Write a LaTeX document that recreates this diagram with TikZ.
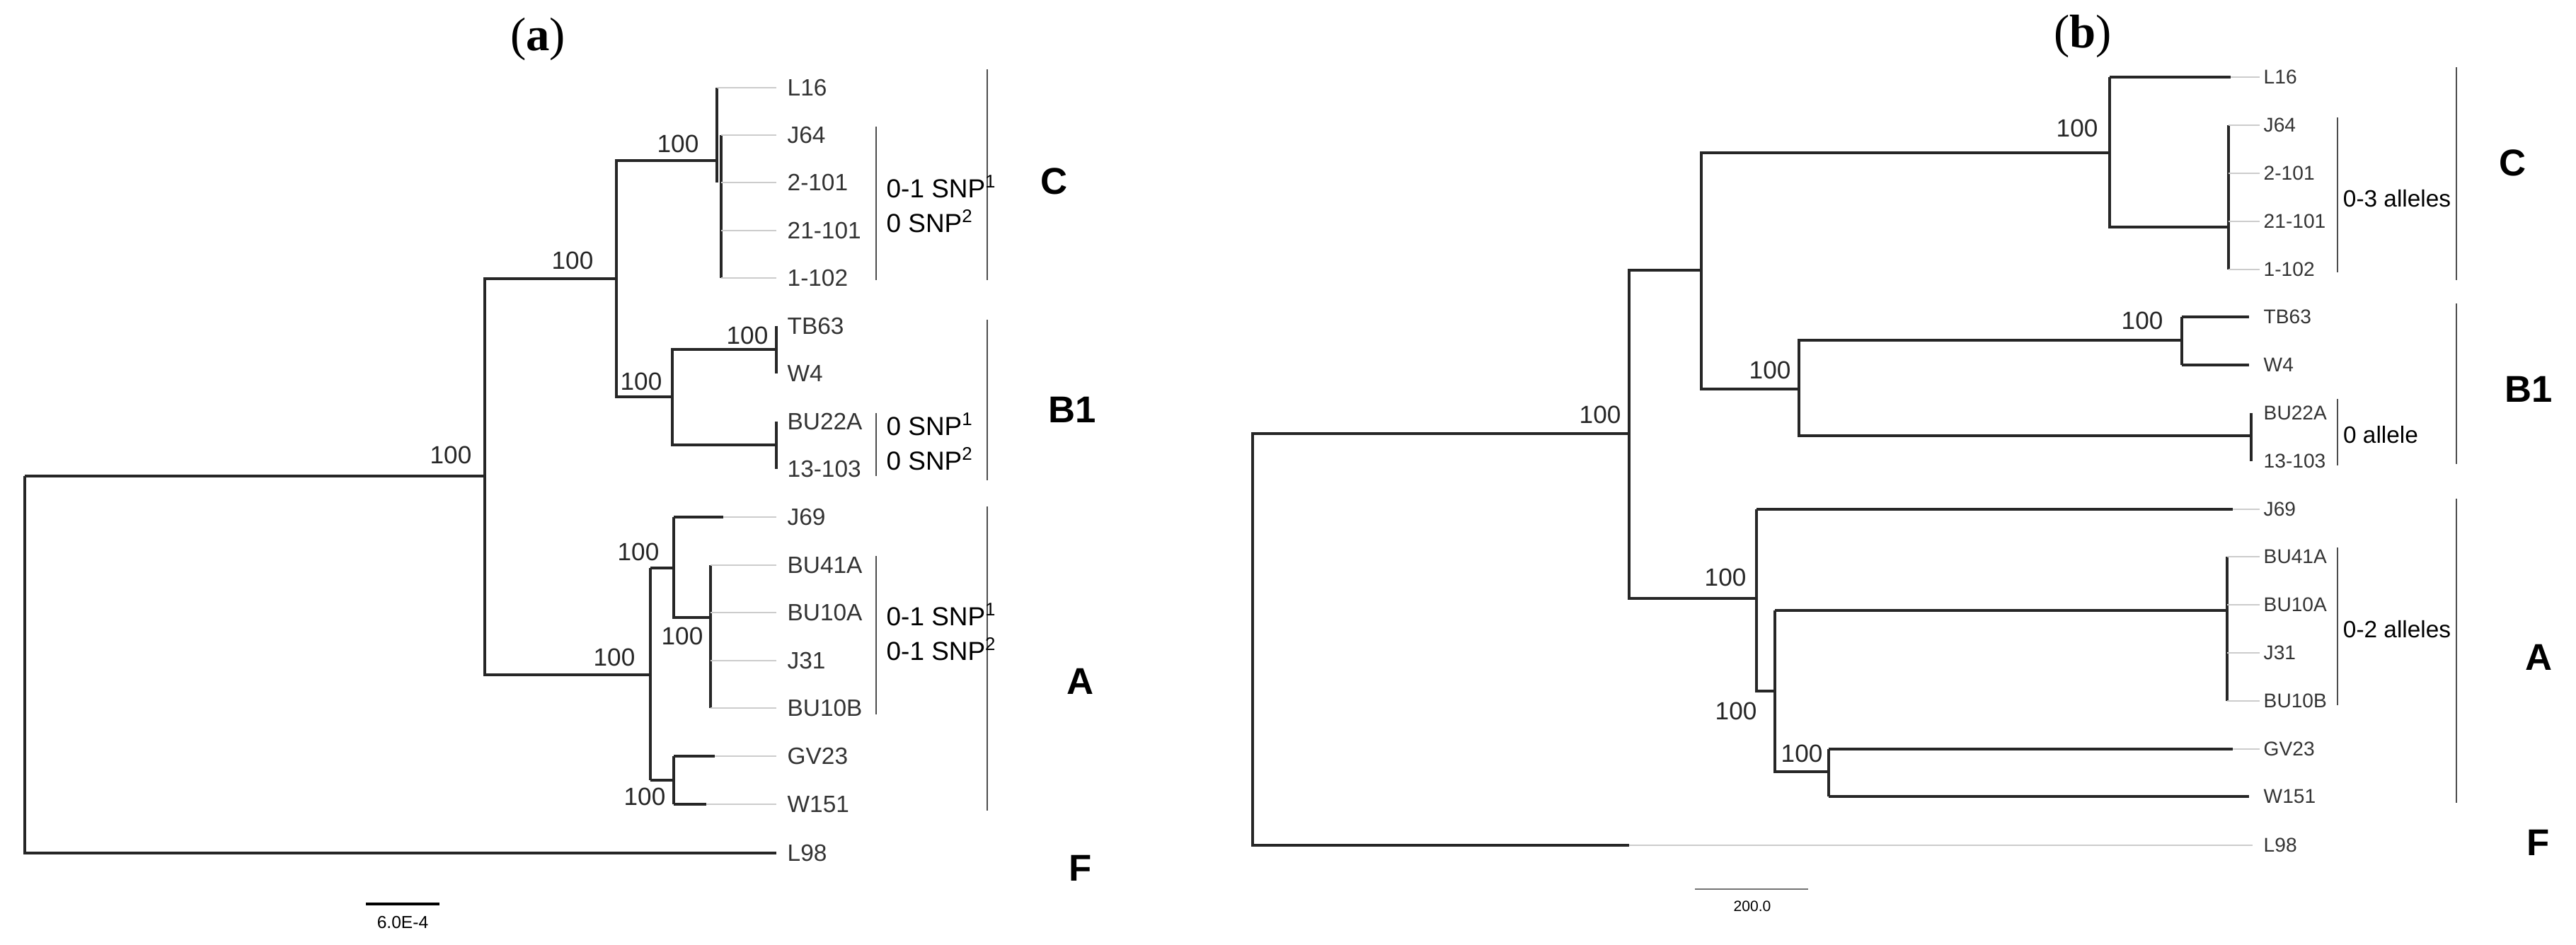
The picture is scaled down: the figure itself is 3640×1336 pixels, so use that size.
\documentclass[tikz,border=0pt]{standalone}
\usepackage{fontspec}
\setmainfont{Liberation Serif}
\newfontfamily\lsans{Liberation Sans}
\begin{document}
\begin{tikzpicture}[x=0.1mm,y=-0.1mm,
  br/.style={line width=0.9pt,black!85},
  lf/.style={draw=black!20,line width=0.5pt},
  lab/.style={anchor=west,inner sep=0pt,font=\lsans\fontsize{9.5}{10}\selectfont,text=black!80},
  labb/.style={anchor=west,inner sep=0pt,font=\lsans\fontsize{8}{9}\selectfont,text=black!80},
  bs/.style={font=\lsans\fontsize{10}{11}\selectfont,text=black!85,inner sep=0pt},
  bar/.style={line width=0.6pt,black!70},
  clade/.style={font=\lsans\bfseries\fontsize{15}{16}\selectfont,inner sep=0pt},
  snp/.style={font=\lsans\fontsize{10.5}{14}\selectfont,align=left,anchor=west,inner sep=0pt},
  ttl/.style={font=\fontsize{19}{20}\selectfont,inner sep=0pt}]
\useasboundingbox (0,0) rectangle (3640,1336);
% ---------- panel (a) ----------
\node[ttl] (ta) at (760,55) {(\textbf{a})};
\foreach \n/\t/\y in {L16/L16/124,J64/J64/191,2101/2-101/258,21101/21-101/326,1102/1-102/393,TB63/TB63/461,W4/W4/528,BU22A/BU22A/596,13103/13-103/663,J69/J69/731,BU41A/BU41A/799,BU10A/BU10A/866,J31/J31/934,BU10B/BU10B/1001,GV23/GV23/1069,W151/W151/1137,L98/L98/1206}
  \node[lab] (a\n) at (1112,\y) {\t};
% internal nodes
\coordinate (ar) at (35,673);
\coordinate (an1) at (685,673);
\coordinate (an2) at (871,394);
\coordinate (aC) at (1013,227);
\coordinate (aCs) at (1019,326);
\coordinate (aB) at (950,561);
\coordinate (aB1) at (1097,494);
\coordinate (aB2) at (1097,629);
\coordinate (aA) at (919,954);
\coordinate (aA1) at (952,803);
\coordinate (aA2) at (1004,873);
\coordinate (aA3) at (952,1103);
\draw[br] (ar) -- (an1);
\draw[br] (an2) |- (aC); \draw[br] (an1) |- (an2); \draw[br] (an1) |- (aA);
\draw[br] (an2) |- (aB);
\draw[br] (aC|-aL16) -- (aC|-a2101);
\draw[br] (aCs|-aJ64) -- (aCs|-a1102);
\draw[br] (aB) |- (aB1); \draw[br] (aB) |- (aB2);
\draw[br] (aB1|-aTB63) -- (aB1|-aW4);
\draw[br] (aB2|-aBU22A) -- (aB2|-a13103);
\draw[br] (aA|-aA1) -- (aA|-aA3);
\draw[br] (aA|-aA1) -- (aA1);
\draw[br] (aA|-aA3) -- (aA3);
\draw[br] (aA1|-aJ69) -- (aA1|-aA2) -- (aA2);
\draw[br] (aA2|-aBU41A) -- (aA2|-aBU10B);
\draw[br] (aA3|-aGV23) -- (aA3|-aW151);
\draw[br] (aA1|-aJ69) -- (1022,731);
\draw[br] (aA3|-aGV23) -- (1010,1069);
\draw[br] (aA3|-aW151) -- (998,1137);
\draw[br] (ar) -- (ar|-aL98) -- (1097,1206);
\foreach \n/\x in {L16/1013,J64/1019,2101/1019,21101/1019,1102/1019,J69/1022,BU41A/1004,BU10A/1004,J31/1004,BU10B/1004,GV23/1010,W151/998}
  \draw[lf] (\x,0|-a\n.west) -- ([xshift=-1.5mm]a\n.west);
\foreach \p in {(958,203),(809,368),(637,643),(1056,474),(906,539),(902,780),(964,899),(868,929),(911,1126)}
  \node[bs] at \p {100};
% bars
\draw[bar] (1395,98) -- (1395,396); \draw[bar] (1395,452) -- (1395,679); \draw[bar] (1395,716) -- (1395,1146);
\draw[bar] (1238,179) -- (1238,396); \draw[bar] (1238,584) -- (1238,673); \draw[bar] (1238,786) -- (1238,1010);
\node[snp] (sC) at (1252,288) {0-1 SNP\textsuperscript{1}\\0 SNP\textsuperscript{2}};
\node[snp] (sB) at (1252,624) {0 SNP\textsuperscript{1}\\0 SNP\textsuperscript{2}};
\node[snp] (sA) at (1252,893) {0-1 SNP\textsuperscript{1}\\0-1 SNP\textsuperscript{2}};
\node[clade] (cCa) at (1490,256) {C};
\node[clade] (cBa) at (1515,579) {B1};
\node[clade] (cAa) at (1527,963) {A};
\node[clade] (cFa) at (1527,1227) {F};
\draw[line width=1pt] (517,1278) -- (621,1278);
\node[font=\lsans\fontsize{7}{8}\selectfont] (sca) at (569,1304) {6.0E-4};
% ---------- panel (b) ----------
\node[ttl] (tb) at (2943,51) {(\textbf{b})};
\foreach \n/\t/\y in {L16/L16/109,J64/J64/177,2101/2-101/245,21101/21-101/313,1102/1-102/381,TB63/TB63/448,W4/W4/516,BU22A/BU22A/584,13103/13-103/652,J69/J69/720,BU41A/BU41A/787,BU10A/BU10A/855,J31/J31/923,BU10B/BU10B/991,GV23/GV23/1059,W151/W151/1126,L98/L98/1195}
  \node[labb] (b\n) at (3198,\y) {\t};
\coordinate (br) at (1770,613);
\coordinate (bn1) at (2302,613);
\coordinate (bn2) at (2404,382);
\coordinate (bC) at (2981,216);
\coordinate (bCs) at (3149,321);
\coordinate (bB) at (2542,550);
\coordinate (bB1) at (3083,481);
\coordinate (bB2) at (3181,616);
\coordinate (bA) at (2482,846);
\coordinate (bA1) at (2508,977);
\coordinate (bA2) at (3147,863);
\coordinate (bA3) at (2584,1091);
\draw[br] (2302,1195) -- (br|-bL98) -- (br) -- (bn1);
\draw[lf] (2302,1195) -- ([xshift=-1.5mm]bL98.west);
\draw[br] (bn1) |- (bn2); \draw[br] (bn1) |- (bA);
\draw[br] (bn2) |- (bC); \draw[br] (bn2) |- (bB);
\draw[br] (bC|-bL16) -- (bC|-bCs) -- (bCs);
\draw[br] (bC|-bL16) -- (3152,109);
\draw[br] (bCs|-bJ64) -- (bCs|-b1102);
\draw[br] (bB) |- (bB1); \draw[br] (bB) |- (bB2);
\draw[br] (bB1|-bTB63) -- (bB1|-bW4);
\draw[br] (bB1|-bTB63) -- (3178,448); \draw[br] (bB1|-bW4) -- (3178,516);
\draw[br] (bB2|-bBU22A) -- (bB2|-b13103);
\draw[br] (bA|-bJ69) -- (bA|-bA1) -- (bA1);
\draw[br] (bA|-bJ69) -- (3155,720);
\draw[br] (bA1|-bA2) -- (bA1|-bA3) -- (bA3);
\draw[br] (bA1|-bA2) -- (bA2);
\draw[br] (bA2|-bBU41A) -- (bA2|-bBU10B);
\draw[br] (bA3|-bGV23) -- (bA3|-bW151);
\draw[br] (bA3|-bGV23) -- (3155,1059); \draw[br] (bA3|-bW151) -- (3178,1126);
\foreach \n/\x in {L16/3152,J64/3149,2101/3149,21101/3149,1102/3149,BU41A/3147,BU10A/3147,J31/3147,BU10B/3147,GV23/3155,J69/3155}
  \draw[lf] (\x,0|-b\n.west) -- ([xshift=-0.5mm]b\n.west);
\foreach \p in {(2935,181),(2261,586),(2501,523),(3027,453),(2438,816),(2453,1005),(2546,1065)}
  \node[bs] at \p {100};
\draw[bar] (3471,95) -- (3471,396); \draw[bar] (3471,429) -- (3471,656); \draw[bar] (3471,705) -- (3471,1135);
\draw[bar] (3303,166) -- (3303,385); \draw[bar] (3303,564) -- (3303,658); \draw[bar] (3303,774) -- (3303,997);
\node[font=\lsans\fontsize{9.5}{10}\selectfont,inner sep=0pt] (t3) at (3387,281) {0-3 alleles};
\node[font=\lsans\fontsize{9.5}{10}\selectfont,inner sep=0pt] (t0) at (3364,615) {0 allele};
\node[font=\lsans\fontsize{9.5}{10}\selectfont,inner sep=0pt] (t2) at (3387,890) {0-2 alleles};
\node[clade] (cCb) at (3550,230) {C};
\node[clade] (cBb) at (3573,550) {B1};
\node[clade] (cAb) at (3587,929) {A};
\node[clade] (cFb) at (3587,1191) {F};
\draw[line width=0.8pt,black!55] (2395,1257) -- (2555,1257);
\node[font=\lsans\fontsize{6}{7}\selectfont] (scb) at (2476,1281) {200.0};
\end{tikzpicture}
\end{document}
